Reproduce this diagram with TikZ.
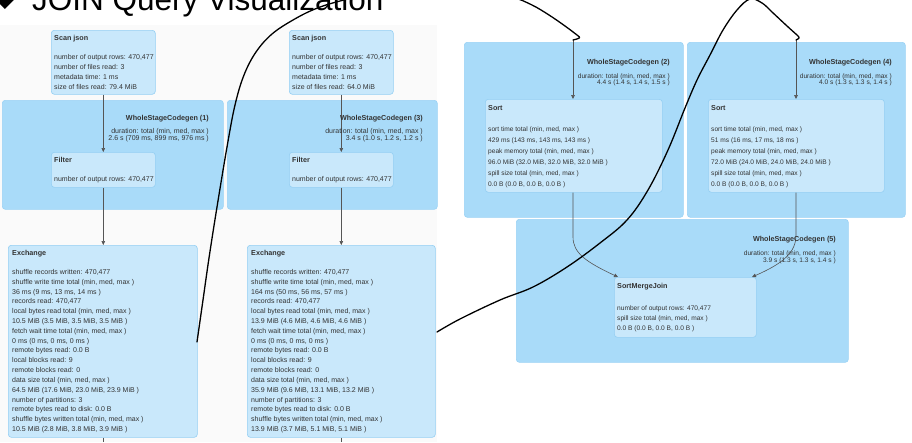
\documentclass[tikz,border=0pt]{standalone}
\usepackage{fontspec}
\setmainfont{Liberation Sans}
\newfontfamily\symfont{DejaVu Sans}
\usetikzlibrary{arrows.meta}
\definecolor{clfill}{HTML}{A9DBF9}
\definecolor{clline}{HTML}{9AD2F5}
\definecolor{ndfill}{HTML}{C9E8FB}
\definecolor{ndline}{HTML}{94CFF3}
\definecolor{txtcol}{HTML}{333333}
\definecolor{edgecol}{HTML}{555555}
\definecolor{bgcol}{HTML}{FAFAFA}
\newcommand\mylines[6]{%
  \foreach \t [count=\i from 0] in {#6} {\node[#5, anchor=base west] (#1-\i) at (#2, {#3+\i*#4}) {\t};}}
\tikzset{
  cluster/.style={draw=clline, fill=clfill, rounded corners=3pt, line width=0.6pt, inner sep=0pt, anchor=north west},
  opbox/.style={draw=ndline, fill=ndfill, rounded corners=3pt, line width=0.6pt, inner sep=0pt, anchor=north west},
  txt/.style={font=\fontsize{7}{8}\selectfont, text=txtcol, inner sep=0pt},
  txtr/.style={font=\fontsize{6.6}{8}\selectfont, text=txtcol, inner sep=0pt},
  ttl/.style={font=\fontsize{7.2}{8}\selectfont\bfseries, text=txtcol, inner sep=0pt},
  edge/.style={draw=edgecol, line width=0.6pt, -{Triangle[length=4pt,width=3.6pt]}},
  plain/.style={draw=edgecol, line width=0.6pt},
  ink/.style={draw=black, line width=1.3pt, line cap=round, line join=round}
}
\begin{document}
\begin{tikzpicture}[x=1pt,y=-1pt]
\useasboundingbox (0,0) rectangle (912,442);
\clip (0,0) rectangle (912,442);
\fill[bgcol] (0,25) rectangle (437,442);
% title
\node[font=\symfont\fontsize{25}{25}\selectfont, inner sep=0pt] (bullet) at (5,0.5) {◆};
\node[font=\fontsize{31.5}{32}\selectfont, anchor=base west, inner sep=0pt] (title) at (32,10) {JOIN Query Visualization};
% clusters
\node[cluster, minimum width=221pt, minimum height=109pt] (wsc1) at (2,100) {};
\node[cluster, minimum width=210pt, minimum height=109pt] (wsc3) at (227,100) {};
\node[cluster, minimum width=219pt, minimum height=175pt] (wsc2) at (464,42) {};
\node[cluster, minimum width=218pt, minimum height=175pt] (wsc4) at (687,42) {};
\node[cluster, minimum width=332pt, minimum height=143pt] (wsc5) at (516,219) {};
% operator boxes
\node[opbox, minimum width=104pt, minimum height=64pt] (scan1) at (51,30) {};
\node[opbox, minimum width=104pt, minimum height=64pt] (scan2) at (289,30) {};
\node[opbox, minimum width=104pt, minimum height=35pt] (filter1) at (51,152) {};
\node[opbox, minimum width=104pt, minimum height=35pt] (filter2) at (289,152) {};
\node[opbox, minimum width=189pt, minimum height=192pt] (ex1) at (8,245) {};
\node[opbox, minimum width=188pt, minimum height=192pt] (ex2) at (247,245) {};
\node[opbox, minimum width=177pt, minimum height=93pt] (sort2) at (485,99) {};
\node[opbox, minimum width=176pt, minimum height=93pt] (sort4) at (708,99) {};
\node[opbox, minimum width=142pt, minimum height=60pt] (smj) at (614,277) {};
% gray connectors
\draw[edge] (scan1.south) -- (filter1.north);
\draw[edge] (scan2.south) -- (filter2.north);
\draw[edge] (filter1.south) -- (ex1.north -| filter1.south);
\draw[edge] (filter2.south) -- (ex2.north -| filter2.south);
\coordinate (ex1out) at (103,442);
\coordinate (ex2out) at (341,442);
\draw[plain] (ex1.south -| ex1out) -- (ex1out);
\draw[plain] (ex2.south -| ex2out) -- (ex2out);
\coordinate (in2) at (573,40);
\coordinate (in4) at (796,40);
\draw[edge] (in2) -- (in2 |- sort2.north);
\draw[edge] (in4) -- (in4 |- sort4.north);
\coordinate (smjL) at (618,277);
\coordinate (smjR) at (752,277);
\draw[edge] (in2 |- sort2.south) -- (573,237) .. controls (573,253) and (586,262) .. (smjL);
\draw[edge] (in4 |- sort4.south) -- (796,235) .. controls (796,252) and (784,263) .. (smjR);
% texts: scans
\node[ttl, anchor=base west] (scan1-t) at (54,40.5) {Scan json};
\mylines{scan1}{54}{59.5}{10}{txt}{{number of output rows: 470,477},{number of files read: 3},{metadata time: 1 ms},{size of files read: 79.4 MiB}}
\node[ttl, anchor=base west] (scan2-t) at (292,40.5) {Scan json};
\mylines{scan2}{292}{59.5}{10}{txt}{{number of output rows: 470,477},{number of files read: 3},{metadata time: 1 ms},{size of files read: 64.0 MiB}}
% codegen titles
\node[ttl, anchor=base east] (wsc1-t) at (209,120.5) {WholeStageCodegen (1)};
\node[txt, anchor=base east] (wsc1-a) at (209,133.5) {duration: total (min, med, max )};
\node[txt, anchor=base east] (wsc1-b) at (209,140.5) {2.6 s (709 ms, 899 ms, 976 ms )};
\node[ttl, anchor=base east] (wsc3-t) at (423,120.5) {WholeStageCodegen (3)};
\node[txt, anchor=base east] (wsc3-a) at (423,133.5) {duration: total (min, med, max )};
\node[txt, anchor=base east] (wsc3-b) at (423,140.5) {3.4 s (1.0 s, 1.2 s, 1.2 s )};
% filters
\node[ttl, anchor=base west] (filter1-t) at (54,162.5) {Filter};
\node[txt, anchor=base west] (filter1-a) at (54,181.5) {number of output rows: 470,477};
\node[ttl, anchor=base west] (filter2-t) at (292,162.5) {Filter};
\node[txt, anchor=base west] (filter2-a) at (292,181.5) {number of output rows: 470,477};
% exchanges
\node[ttl, anchor=base west] (ex1-t) at (12,255.5) {Exchange};
\mylines{ex1}{12}{274.5}{9.81}{txt}{{shuffle records written: 470,477},{shuffle write time total (min, med, max )},{36 ms (9 ms, 13 ms, 14 ms )},{records read: 470,477},{local bytes read total (min, med, max )},{10.5 MiB (3.5 MiB, 3.5 MiB, 3.5 MiB )},{fetch wait time total (min, med, max )},{0 ms (0 ms, 0 ms, 0 ms )},{remote bytes read: 0.0 B},{local blocks read: 9},{remote blocks read: 0},{data size total (min, med, max )},{64.5 MiB (17.6 MiB, 23.0 MiB, 23.9 MiB )},{number of partitions: 3},{remote bytes read to disk: 0.0 B},{shuffle bytes written total (min, med, max )},{10.5 MiB (2.8 MiB, 3.8 MiB, 3.9 MiB )}}
\node[ttl, anchor=base west] (ex2-t) at (251,255.5) {Exchange};
\mylines{ex2}{251}{274.5}{9.81}{txt}{{shuffle records written: 470,477},{shuffle write time total (min, med, max )},{164 ms (50 ms, 56 ms, 57 ms )},{records read: 470,477},{local bytes read total (min, med, max )},{13.9 MiB (4.6 MiB, 4.6 MiB, 4.6 MiB )},{fetch wait time total (min, med, max )},{0 ms (0 ms, 0 ms, 0 ms )},{remote bytes read: 0.0 B},{local blocks read: 9},{remote blocks read: 0},{data size total (min, med, max )},{35.9 MiB (9.6 MiB, 13.1 MiB, 13.2 MiB )},{number of partitions: 3},{remote bytes read to disk: 0.0 B},{shuffle bytes written total (min, med, max )},{13.9 MiB (3.7 MiB, 5.1 MiB, 5.1 MiB )}}
% right side codegens
\node[ttl, anchor=base east] (wsc2-t) at (670,64.5) {WholeStageCodegen (2)};
\node[txtr, anchor=base east] (wsc2-a) at (670,78.5) {duration: total (min, med, max )};
\node[txtr, anchor=base east] (wsc2-b) at (670,84.5) {4.4 s (1.4 s, 1.4 s, 1.5 s )};
\node[ttl, anchor=base east] (wsc4-t) at (892,64.5) {WholeStageCodegen (4)};
\node[txtr, anchor=base east] (wsc4-a) at (892,78.5) {duration: total (min, med, max )};
\node[txtr, anchor=base east] (wsc4-b) at (892,84.5) {4.0 s (1.3 s, 1.3 s, 1.4 s )};
\node[ttl, anchor=base east] (wsc5-t) at (836,241.5) {WholeStageCodegen (5)};
\node[txtr, anchor=base east] (wsc5-a) at (836,255.5) {duration: total (min, med, max )};
\node[txtr, anchor=base east] (wsc5-b) at (836,262.5) {3.9 s (1.3 s, 1.3 s, 1.4 s )};
% sorts
\node[ttl, anchor=base west] (sort2-t) at (488,110.5) {Sort};
\mylines{sort2}{488}{131.5}{10.9}{txtr}{{sort time total (min, med, max )},{429 ms (143 ms, 143 ms, 143 ms )},{peak memory total (min, med, max )},{96.0 MiB (32.0 MiB, 32.0 MiB, 32.0 MiB )},{spill size total (min, med, max )},{0.0 B (0.0 B, 0.0 B, 0.0 B )}}
\node[ttl, anchor=base west] (sort4-t) at (711,110.5) {Sort};
\mylines{sort4}{711}{131.5}{10.9}{txtr}{{sort time total (min, med, max )},{51 ms (16 ms, 17 ms, 18 ms )},{peak memory total (min, med, max )},{72.0 MiB (24.0 MiB, 24.0 MiB, 24.0 MiB )},{spill size total (min, med, max )},{0.0 B (0.0 B, 0.0 B, 0.0 B )}}
% sort merge join
\node[ttl, anchor=base west] (smj-t) at (617,288.5) {SortMergeJoin};
\mylines{smj}{617}{310.5}{10.2}{txtr}{{number of output rows: 470,477},{spill size total (min, med, max )},{0.0 B (0.0 B, 0.0 B, 0.0 B )}}
% hand-drawn ink curves
\coordinate (ink1s) at (197,342);
\coordinate (ink2s) at (437,332);
\draw[ink] plot[smooth, tension=0.6] coordinates {(ink1s) (203,300) (209,258) (217,207) (227,147) (235,105) (244,75) (256,52) (272,34) (293,20) (315,9) (340,1) (380,-8) (430,-12) (480,-9) (512,-3) (532,5) (549,15) (565,26) (577,35)} .. controls (581,38) .. (in2);
\draw[ink] plot[smooth, tension=0.6] coordinates {(ink2s) (460,319) (500,300) (533,287) (567,267) (600,243) (627,220) (648,190) (668,150) (685,108) (697,80) (710,55) (723,30) (737,10) (750,-1) (762,3) (772,12) (787,26) (797,35)} .. controls (800,38) .. (in4);
\end{tikzpicture}
\end{document}
